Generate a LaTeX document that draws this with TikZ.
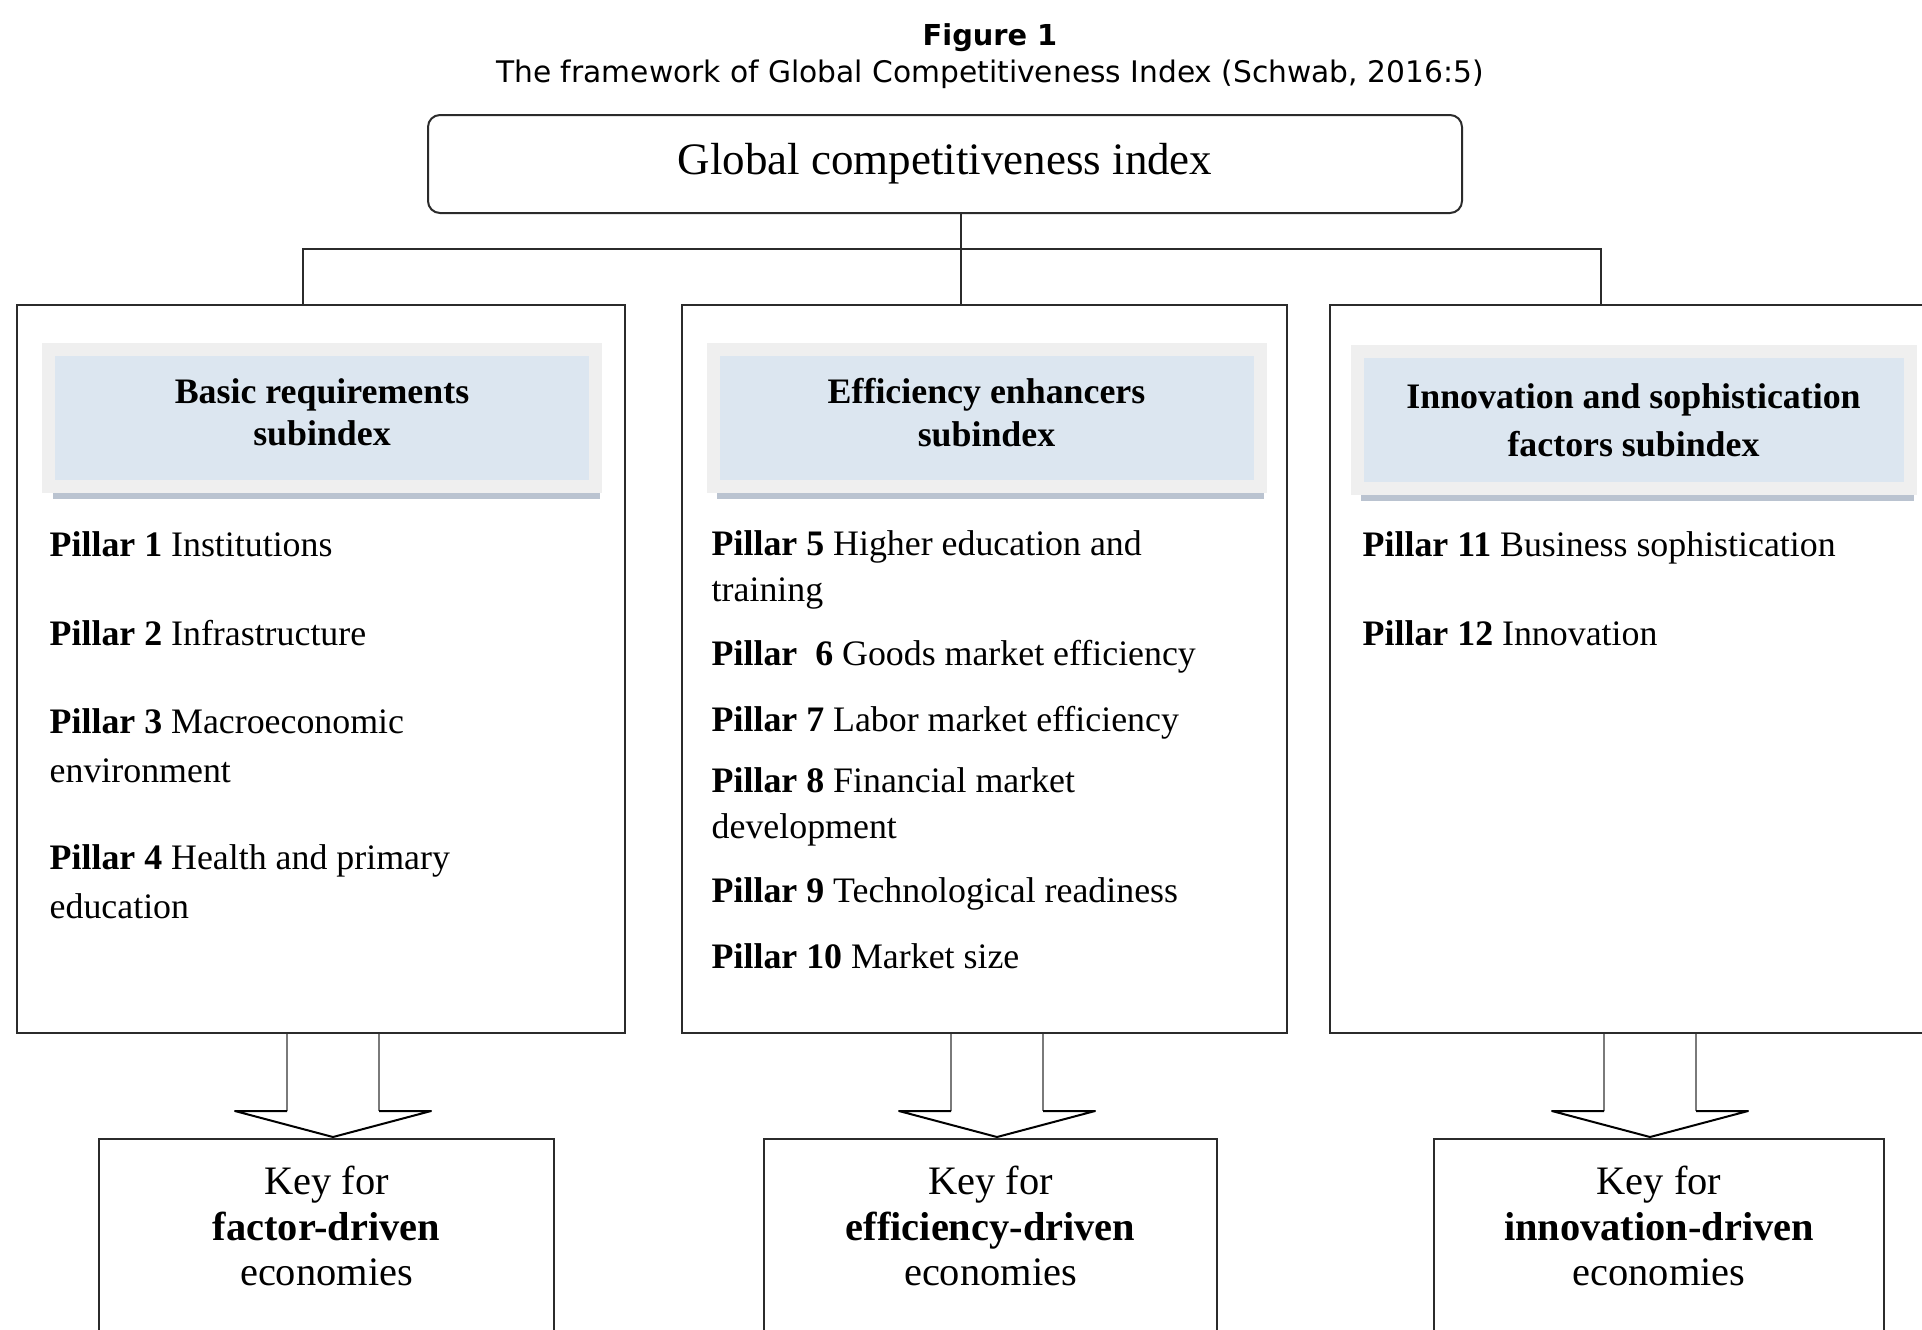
\documentclass[tikz,border=0pt]{standalone}
\usepackage{fontspec}
\setmainfont{Liberation Serif}
\newfontfamily\titlefont{DejaVu Sans}
\usetikzlibrary{calc, shadows}
\definecolor{boxedge}{HTML}{2B2B2B}
\definecolor{hdrfill}{HTML}{DCE6F0}
\definecolor{hdrframe}{HTML}{EFEFEF}
\definecolor{hdrshadow}{HTML}{A9B5C5}
\definecolor{shaftgray}{HTML}{7A7A7A}

\begin{document}
\begin{tikzpicture}[x=0.1mm, y=-0.1mm,
  gcibox/.style={rectangle, rounded corners=1.2mm, draw=boxedge, line width=0.2mm,
                 minimum width=103.4mm, minimum height=9.8mm, font=\fontsize{12.8}{15}\selectfont},
  pbox/.style={rectangle, draw=boxedge, line width=0.2mm, fill=white, minimum height=72.8mm},
  hdr/.style={rectangle, draw=hdrframe, line width=1.3mm, fill=hdrfill, minimum width=54.7mm,
              minimum height=13.7mm, align=center, font=\fontsize{10.2}{12.2}\selectfont\bfseries,
              drop shadow={shadow xshift=0.4mm, shadow yshift=-1.2mm, fill=hdrshadow, opacity=0.8}},
  item/.style={anchor=west, align=left, inner sep=0pt, font=\fontsize{10.2}{13.8}\selectfont},
  keybox/.style={rectangle, draw=boxedge, line width=0.2mm, anchor=north, minimum height=25mm},
  keytext/.style={align=center, font=\fontsize{11.5}{13}\selectfont},
  tree/.style={draw=boxedge, line width=0.15mm},
  shaft/.style={draw=shaftgray, line width=0.2mm},
  head/.style={draw=black, line width=0.2mm, line join=round},
]
\useasboundingbox (0,0) rectangle (1922,1329);
\clip (0,0) rectangle (1922,1329);
% ================= caption =================================================
\node[font=\titlefont\fontsize{8.2}{10}\selectfont\bfseries] (fig) at (990,38) {Figure 1};
\node[font=\titlefont\fontsize{8.45}{10}\selectfont] (caption) at (990,74)
  {The framework of Global Competitiveness Index (Schwab, 2016:5)};
% ================= index and the three subindex panels =====================
\node[gcibox] (gci) at (945,164) {Global competitiveness index};
\node[pbox, minimum width=60.8mm] (basic) at (321,669) {};
\node[pbox, minimum width=60.5mm] (effic) at (984.5,669) {};
\node[pbox, minimum width=63mm] (innov) at (1645,669) {};
\coordinate (hub) at (961,249);
\draw[tree] (gci.south -| hub) -- (hub);
\draw[tree] (303,0 |- basic.north) |- (1601,0 |- hub) -- (1601,0 |- innov.north);
\draw[tree] (hub) -- (hub |- effic.north);
% headers
\node[hdr, text depth=1.2mm] (hbasic) at (322,418) {Basic requirements\\subindex};
\node[hdr, text depth=1.2mm] (heffic) at (986.5,418) {Efficiency enhancers\\subindex};
\node[hdr, minimum width=55.3mm, font=\fontsize{10.2}{13.6}\selectfont\bfseries] (hinnov) at (1633.5,420)
  {Innovation and sophistication\\factors subindex};
% pillars 1-4
\node[item] (p1) at (49,544) {\textbf{Pillar 1} Institutions};
\node[item] (p2) at (49,633) {\textbf{Pillar 2} Infrastructure};
\node[item] (p3) at (49,745.5) {\textbf{Pillar 3} Macroeconomic\\environment};
\node[item] (p4) at (49,881.5) {\textbf{Pillar 4} Health and primary\\education};
% pillars 5-10
\node[item, font=\fontsize{10.2}{13}\selectfont] (p5) at (711,570) {\textbf{Pillar 5} Higher education and\\training};
\node[item] (p6) at (711,657) {\textbf{Pillar\ \ 6} Goods market efficiency};
\node[item] (p7) at (711,723) {\textbf{Pillar 7} Labor market efficiency};
\node[item, font=\fontsize{10.2}{13}\selectfont] (p8) at (711,807) {\textbf{Pillar 8} Financial market\\development};
\node[item] (p9) at (711,894) {\textbf{Pillar 9} Technological readiness};
\node[item] (p10) at (711,956) {\textbf{Pillar 10} Market size};
% pillars 11-12
\node[item] (p11) at (1362,548) {\textbf{Pillar 11} Business sophistication};
\node[item] (p12) at (1362,633) {\textbf{Pillar 12} Innovation};
% ================= stages of development ===================================
\node[keybox, minimum width=45.5mm] (keyf) at (326.5,1138) {};
\node[keybox, minimum width=45.3mm] (keye) at (990.5,1138) {};
\node[keybox, minimum width=45mm] (keyi) at (1659,1138) {};
\node[keytext] (keyftext) at ($(keyf.north)+(0,88)$) {Key for\\\textbf{factor-driven}\\economies};
\node[keytext] (keyetext) at ($(keye.north)+(0,88)$) {Key for\\\textbf{efficiency-driven}\\economies};
\node[keytext] (keyitext) at ($(keyi.north)+(0,88)$) {Key for\\\textbf{innovation-driven}\\economies};
% hollow arrows
\coordinate (tipf) at (333,1137);
\coordinate (tipe) at (997,1137);
\coordinate (tipi) at (1650,1137);
\foreach \bx/\tp in {basic/tipf, effic/tipe, innov/tipi} {
  \fill[white] ($(\bx.south -| \tp)+(-46,0)$) -- ($(\tp)+(-46,-26)$) -- ($(\tp)+(-98,-26)$) -- (\tp)
    -- ($(\tp)+(98,-26)$) -- ($(\tp)+(46,-26)$) -- ($(\bx.south -| \tp)+(46,0)$) -- cycle;
  \draw[shaft] ($(\bx.south -| \tp)+(-46,0)$) -- ($(\tp)+(-46,-26)$);
  \draw[shaft] ($(\bx.south -| \tp)+(46,0)$) -- ($(\tp)+(46,-26)$);
  \draw[head] ($(\tp)+(-46,-26)$) -- ($(\tp)+(-98,-26)$) -- (\tp) -- ($(\tp)+(98,-26)$) -- ($(\tp)+(46,-26)$);
}
\end{tikzpicture}
\end{document}
